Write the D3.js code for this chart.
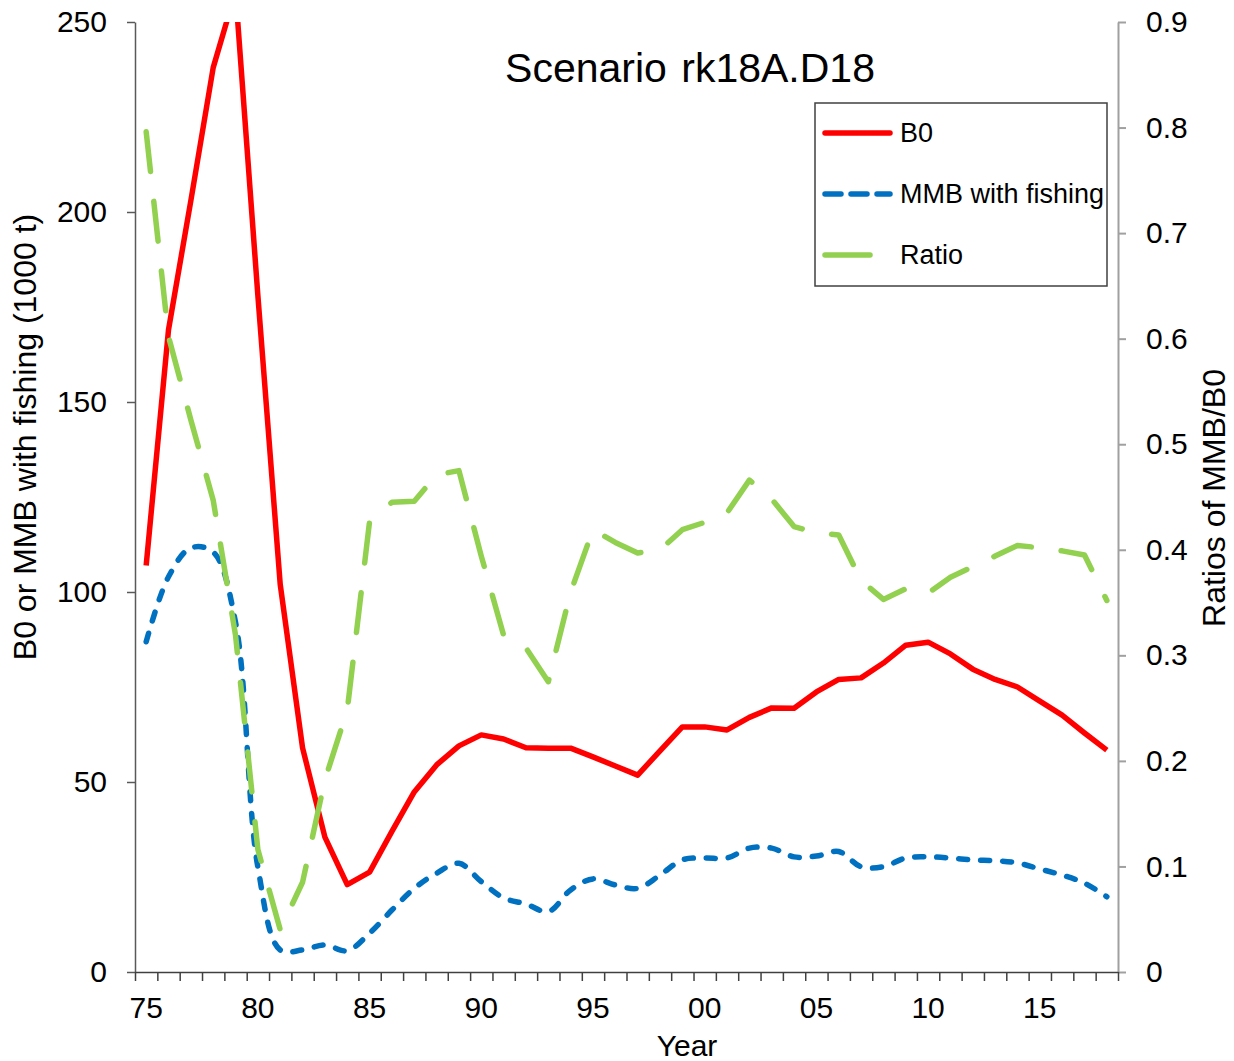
<!DOCTYPE html>
<html lang="en">
<head>
    <meta charset="UTF-8">
    <title>Scenario rk18A.D18</title>
    <script src="https://cdn.jsdelivr.net/npm/d3@7"></script>
    <style>
        body{
            margin: 0;
            background: white;
            font-family: "Liberation Sans", Arial, sans-serif;
        }
        .axis path{
            fill: none;
        }
        .leftAxis path, .leftAxis line{
            stroke: #595959;
            stroke-width: 1.5;
        }
        .rightAxis path, .rightAxis line{
            stroke: #a0a0a0;
            stroke-width: 2;
        }
        .bottomAxis path, .bottomAxis line{
            stroke: #404040;
            stroke-width: 1.5;
        }
        .axis text{
            font-family: "Liberation Sans", Arial, sans-serif;
            font-size: 30px;
            fill: #000;
        }
    </style>
</head>
<body>
<svg id="main" width="1234" height="1061"></svg>
<script>
    const width = 1234, height = 1061;
    const margin = {top: 22, bottom: 89, left: 135, right: 116};

    // Data
    const years = d3.range(1975, 2019);
    const b0 = [107, 169, 203, 238, 258, 178, 102, 59, 35.5, 23, 26.3, 37, 47.4, 54.5, 59.5, 62.4, 61.3, 59, 58.9, 58.9, 56.6, 54.2, 51.8, 58.2, 64.5,
        64.5, 63.7, 67, 69.5, 69.4, 73.7, 77, 77.4, 81.3, 86, 86.8, 83.7, 79.7, 77, 75, 71.3, 67.6, 62.9, 58.4];
    const mmb = [86.9, 104, 111.6, 110.5, 92, 27.6, 5.8, 5.8, 7.1, 5.6, 10.2, 16.3, 22, 26, 28.6, 23.8, 19.5, 17.9, 15.9, 21.6, 24.5, 22.9, 22, 25.5, 29.5,
        30, 30, 32.6, 32.6, 30.3, 30.5, 31.7, 27.7, 27.7, 30, 30.3, 30, 29.5, 29.3, 28.7, 27.1, 25.5, 23.4, 19.8];
    const ratio = [0.796, 0.602, 0.523, 0.447, 0.319, 0.116, 0.040, 0.085, 0.182, 0.248, 0.427, 0.445, 0.446, 0.471, 0.475, 0.394, 0.319, 0.307, 0.275, 0.360,
        0.419, 0.407, 0.397, 0.400, 0.419, 0.426, 0.435, 0.466, 0.448, 0.422, 0.416, 0.414, 0.371, 0.353, 0.363, 0.359, 0.374, 0.384, 0.394, 0.404,
        0.402, 0.399, 0.395, 0.352];
    const leftTicks = [0, 50, 100, 150, 200, 250];
    const rightTicks = [0, 0.1, 0.2, 0.3, 0.4, 0.5, 0.6, 0.7, 0.8, 0.9];
    const labelYears = [1975, 1980, 1985, 1990, 1995, 2000, 2005, 2010, 2015];

    const svg = d3.select("svg#main");
    const group = svg.append("g");

    // scales
    const xScale = d3.scaleBand()
        .domain(years)
        .range([margin.left, width - margin.right])
        .paddingInner(0);
    const xEdge = d3.scaleLinear()
        .domain([0, years.length])
        .range([margin.left, width - margin.right]);
    const yLeft = d3.scaleLinear()
        .domain([0, 250])
        .range([height - margin.bottom, margin.top]);
    const yRight = d3.scaleLinear()
        .domain([0, 0.9])
        .range([height - margin.bottom, margin.top]);
    const xc = y => xScale(y) + xScale.bandwidth() / 2;

    // clip so the B0 peak is cut at the top like in the original
    svg.append("defs").append("clipPath").attr("id", "plotClip")
        .append("rect")
        .attr("x", margin.left).attr("y", margin.top)
        .attr("width", width - margin.left - margin.right)
        .attr("height", height - margin.top - margin.bottom);

    // axes
    group.append("g")
        .attr("class", "axis leftAxis")
        .attr("transform", `translate(${margin.left},0)`)
        .call(d3.axisLeft(yLeft).tickValues(leftTicks).tickSize(8).tickPadding(20).tickSizeOuter(0));

    group.append("g")
        .attr("class", "axis rightAxis")
        .attr("transform", `translate(${width - margin.right},0)`)
        .call(d3.axisRight(yRight).tickValues(rightTicks).tickSize(8).tickPadding(20).tickSizeOuter(0)
            .tickFormat(d => d === 0 ? "0" : d3.format(".1f")(d)));

    // bottom axis: tick marks between years
    group.append("g")
        .attr("class", "axis bottomAxis")
        .attr("transform", `translate(0,${height - margin.bottom})`)
        .call(d3.axisBottom(xEdge).tickValues(d3.range(0, years.length + 1)).tickSize(9).tickFormat("").tickSizeOuter(0));

    // bottom labels every 5 years
    const labelAxis = group.append("g")
        .attr("class", "axis")
        .attr("transform", `translate(0,${height - margin.bottom})`)
        .call(d3.axisBottom(xScale).tickValues(labelYears).tickSize(0).tickPadding(25)
            .tickFormat(d => String(d).slice(2)));
    labelAxis.select(".domain").remove();

    // lines
    const lineB0 = d3.line()
        .x((_, i) => xc(years[i]))
        .y(d => yLeft(d));
    const lineMmb = d3.line()
        .x((_, i) => xc(years[i]))
        .y(d => yLeft(d))
        .curve(d3.curveCatmullRom.alpha(0.5));
    const lineRatio = d3.line()
        .x((_, i) => xc(years[i]))
        .y(d => yRight(d));

    const plot = group.append("g").attr("clip-path", "url(#plotClip)");

    plot.append("path")
        .datum(b0)
        .attr("fill", "none")
        .attr("stroke", "#ff0000")
        .attr("stroke-width", 5.5)
        .attr("stroke-linejoin", "round")
        .attr("d", lineB0);

    plot.append("path")
        .datum(mmb)
        .attr("fill", "none")
        .attr("stroke", "#0070c0")
        .attr("stroke-width", 5.5)
        .attr("stroke-linecap", "round")
        .attr("stroke-dasharray", "9,13")
        .attr("d", lineMmb);

    plot.append("path")
        .datum(ratio)
        .attr("fill", "none")
        .attr("stroke", "#92d050")
        .attr("stroke-width", 5.5)
        .attr("stroke-linecap", "round")
        .attr("stroke-linejoin", "round")
        .attr("stroke-dasharray", "40,30")
        .attr("d", lineRatio);

    // titles
    svg.append("text")
        .attr("x", 690).attr("y", 82)
        .attr("text-anchor", "middle")
        .style("font-size", "41px")
        .style("word-spacing", "3px")
        .text("Scenario rk18A.D18");

    svg.append("text")
        .attr("x", 687).attr("y", 1056)
        .attr("text-anchor", "middle")
        .style("font-size", "30px")
        .text("Year");

    svg.append("text")
        .attr("transform", "translate(36,437) rotate(-90)")
        .attr("text-anchor", "middle")
        .style("font-size", "32px")
        .text("B0 or MMB with fishing (1000 t)");

    svg.append("text")
        .attr("transform", "translate(1225,498) rotate(-90)")
        .attr("text-anchor", "middle")
        .style("font-size", "32px")
        .text("Ratios of MMB/B0");

    // legend
    const legendItems = [
        {name: "B0", color: "#ff0000", dash: null, len: 70},
        {name: "MMB with fishing", color: "#0070c0", dash: "16,10", len: 70},
        {name: "Ratio", color: "#92d050", dash: null, len: 50}
    ];
    const legend = svg.append("g").attr("transform", "translate(815,103)");
    legend.append("rect")
        .attr("width", 292).attr("height", 183)
        .attr("fill", "white")
        .attr("stroke", "#404040")
        .attr("stroke-width", 1.5);
    const legends = legend.selectAll(".legends")
        .data(legendItems)
        .join("g")
        .attr("class", "legends")
        .attr("transform", (_, i) => `translate(0,${30 + i * 61})`);
    legends.append("line")
        .attr("x1", 10).attr("x2", d => 10 + d.len - 5)
        .attr("stroke", d => d.color)
        .attr("stroke-width", 5.5)
        .attr("stroke-linecap", "round")
        .attr("stroke-dasharray", d => d.dash);
    legends.append("text")
        .attr("x", 85).attr("dy", 9)
        .style("font-size", "27px")
        .text(d => d.name);
</script>
</body>
</html>
